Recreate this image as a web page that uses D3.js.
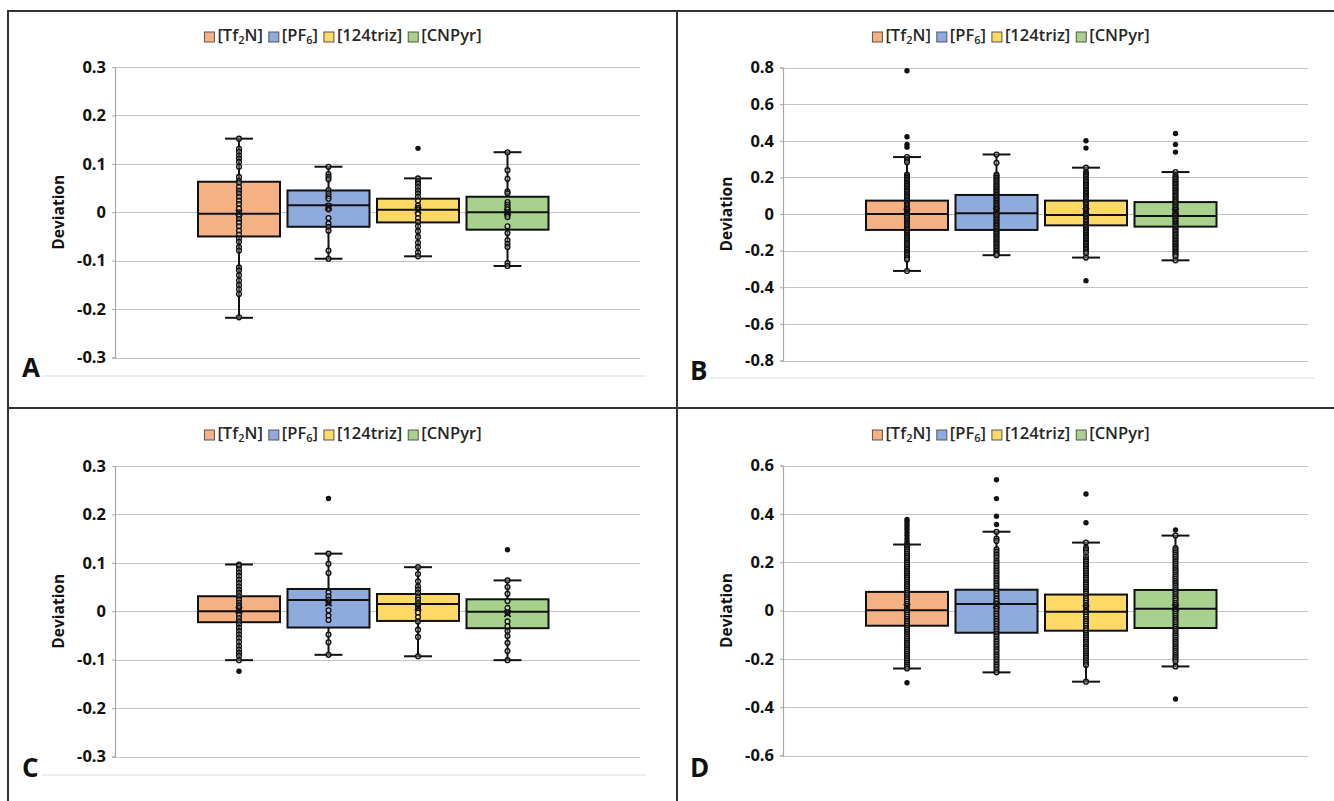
<!DOCTYPE html>
<html>
<head>
<meta charset="utf-8">
<script src="https://cdn.jsdelivr.net/npm/d3@7"></script>
<style>
  html, body { margin: 0; padding: 0; background: #fff; }
  svg { display: block; }
  text { font-family: "Open Sans", "Liberation Sans", sans-serif; }
</style>
</head>
<body>
<script>
// ---------------- DATA ----------------
const seriesNames = ["[Tf2N]", "[PF6]", "[124triz]", "[CNPyr]"];
// legend label parts: [before, subscript, after]
const legendParts = [["[Tf", "2", "N]"], ["[PF", "6", "]"], ["[124triz]", "", ""], ["[CNPyr]", "", ""]];
const seriesColors = ["#F4B183", "#8FAADC", "#FFD966", "#A9D18E"];

const panelLabels = ["A", "B", "C", "D"];
const yDomains = [[-0.3, 0.3], [-0.8, 0.8], [-0.3, 0.3], [-0.6, 0.6]];
const tickStepsY = [0.1, 0.2, 0.1, 0.2];

// box statistics per series: [whiskerLow, q1, median, q3, whiskerHigh]
const boxA = [[-0.218, -0.050, -0.003, 0.063, 0.152], [-0.096, -0.030, 0.0145, 0.045, 0.094], [-0.091, -0.021, 0.005, 0.028, 0.070], [-0.111, -0.036, 0.000, 0.032, 0.124]];
const boxB = [[-0.311, -0.087, 0.000, 0.073, 0.311], [-0.225, -0.087, 0.004, 0.104, 0.325], [-0.238, -0.062, -0.005, 0.073, 0.253], [-0.253, -0.069, -0.011, 0.065, 0.229]];
const boxC = [[-0.101, -0.0226, 0.000, 0.031, 0.0966], [-0.090, -0.0336, 0.023, 0.046, 0.119], [-0.093, -0.020, 0.015, 0.0356, 0.091], [-0.101, -0.035, -0.001, 0.0247, 0.0637]];
const boxD = [[-0.240, -0.063, 0.001, 0.077, 0.273], [-0.256, -0.092, 0.027, 0.086, 0.326], [-0.2945, -0.0836, -0.0055, 0.066, 0.281], [-0.2315, -0.0726, 0.0068, 0.085, 0.310]];

// mean values (X marker)
const meanA = [-0.001, 0.011, 0.004, 0.000];
const meanB = [0.012, 0.016, 0.014, 0.012];
const meanC = [0.002, 0.017, 0.008, -0.005];
const meanD = [0.014, 0.022, 0.009, 0.012];

// inner data points
const pointsA = [
  [0.152, 0.131, 0.125, 0.117, 0.111, 0.104, 0.094, 0.073, 0.065, 0.061, 0.052, 0.045, 0.039, 0.032, 0.024, 0.017, 0.008, 0.000, -0.007, -0.014, -0.021, -0.029, -0.038, -0.046, -0.054, -0.061, -0.072, -0.079, -0.114, -0.120, -0.130, -0.141, -0.150, -0.159, -0.169, -0.217],
  [0.094, 0.079, 0.073, 0.068, 0.046, 0.039, 0.033, 0.028, 0.014, 0.009, 0.006, -0.012, -0.023, -0.030, -0.038, -0.079, -0.096],
  [0.070, 0.064, 0.059, 0.052, 0.045, 0.039, 0.032, 0.024, 0.014, 0.009, 0.006, -0.003, -0.012, -0.020, -0.029, -0.039, -0.051, -0.063, -0.072, -0.083, -0.091],
  [0.124, 0.087, 0.069, 0.043, 0.039, 0.021, 0.016, 0.011, 0.006, 0.000, -0.005, -0.010, -0.029, -0.043, -0.058, -0.065, -0.072, -0.105, -0.111]
];
const outliersA = [[], [], [0.132], []];

const pointsB = [
  [0.311, 0.295, 0.283, 0.215, 0.206, 0.197, 0.189, 0.180, 0.171, 0.163, 0.155, 0.146, 0.138, 0.129, 0.121, 0.112, 0.104, 0.096, 0.087, 0.079, 0.071, 0.062, 0.054, 0.046, 0.037, 0.029, 0.021, 0.012, 0.004, -0.004, -0.012, -0.021, -0.029, -0.037, -0.046, -0.054, -0.062, -0.071, -0.079, -0.087, -0.096, -0.104, -0.112, -0.121, -0.129, -0.138, -0.146, -0.155, -0.163, -0.171, -0.180, -0.189, -0.197, -0.206, -0.214, -0.223, -0.231, -0.240, -0.249, -0.311],
  [0.325, 0.280, 0.215, 0.207, 0.198, 0.190, 0.181, 0.173, 0.164, 0.156, 0.147, 0.139, 0.130, 0.122, 0.113, 0.105, 0.096, 0.088, 0.079, 0.071, 0.062, 0.054, 0.045, 0.037, 0.028, 0.020, 0.011, 0.003, -0.006, -0.014, -0.023, -0.031, -0.040, -0.048, -0.057, -0.065, -0.074, -0.082, -0.091, -0.099, -0.108, -0.116, -0.125, -0.133, -0.142, -0.150, -0.159, -0.167, -0.176, -0.184, -0.193, -0.201, -0.210, -0.218, -0.225],
  [0.253, 0.228, 0.219, 0.211, 0.202, 0.194, 0.185, 0.177, 0.168, 0.160, 0.151, 0.143, 0.134, 0.126, 0.117, 0.109, 0.100, 0.092, 0.083, 0.075, 0.066, 0.058, 0.049, 0.041, 0.032, 0.024, 0.015, 0.007, -0.002, -0.010, -0.019, -0.027, -0.036, -0.044, -0.053, -0.061, -0.070, -0.078, -0.087, -0.095, -0.104, -0.112, -0.121, -0.129, -0.138, -0.146, -0.155, -0.163, -0.172, -0.180, -0.189, -0.197, -0.206, -0.214, -0.238],
  [0.229, 0.210, 0.201, 0.193, 0.184, 0.176, 0.167, 0.159, 0.150, 0.142, 0.133, 0.125, 0.116, 0.108, 0.099, 0.091, 0.082, 0.074, 0.065, 0.057, 0.048, 0.040, 0.031, 0.023, 0.014, 0.006, -0.003, -0.011, -0.020, -0.028, -0.037, -0.045, -0.054, -0.062, -0.071, -0.079, -0.088, -0.096, -0.105, -0.113, -0.122, -0.130, -0.139, -0.147, -0.156, -0.164, -0.173, -0.181, -0.190, -0.198, -0.207, -0.215, -0.224, -0.232, -0.253]
];
const outliersB = [[0.782, 0.422, 0.380, 0.365], [], [0.400, 0.360, -0.364], [0.440, 0.380, 0.338]];

const pointsC = [
  [0.0966, 0.094, 0.087, 0.080, 0.073, 0.065, 0.058, 0.051, 0.044, 0.038, 0.031, 0.024, 0.018, 0.012, 0.007, 0.000, -0.007, -0.014, -0.021, -0.027, -0.034, -0.041, -0.048, -0.055, -0.063, -0.072, -0.079, -0.086, -0.092, -0.101],
  [0.119, 0.098, 0.079, 0.039, 0.031, 0.024, 0.018, 0.002, -0.009, -0.018, -0.048, -0.064, -0.090],
  [0.091, 0.077, 0.062, 0.051, 0.045, 0.038, 0.029, 0.024, 0.017, 0.012, 0.007, -0.003, -0.012, -0.021, -0.038, -0.053, -0.093],
  [0.0637, 0.050, 0.036, 0.021, 0.007, -0.003, -0.021, -0.031, -0.041, -0.051, -0.065, -0.082, -0.101]
];
const outliersC = [[-0.124], [0.233], [], [0.127]];

const pointsD = [
  [0.273, 0.262, 0.253, 0.244, 0.235, 0.226, 0.217, 0.208, 0.199, 0.190, 0.181, 0.172, 0.163, 0.154, 0.145, 0.136, 0.127, 0.118, 0.109, 0.100, 0.091, 0.082, 0.073, 0.064, 0.055, 0.046, 0.037, 0.028, 0.019, 0.010, 0.001, -0.008, -0.017, -0.026, -0.035, -0.044, -0.053, -0.062, -0.071, -0.080, -0.089, -0.098, -0.107, -0.116, -0.125, -0.134, -0.143, -0.152, -0.161, -0.170, -0.179, -0.188, -0.197, -0.206, -0.215, -0.224, -0.232, -0.240],
  [0.326, 0.298, 0.288, 0.253, 0.243, 0.231, 0.220, 0.207, 0.197, 0.186, 0.176, 0.165, 0.155, 0.145, 0.134, 0.124, 0.113, 0.103, 0.092, 0.082, 0.071, 0.061, 0.050, 0.040, 0.029, 0.019, 0.008, -0.002, -0.013, -0.023, -0.034, -0.044, -0.055, -0.065, -0.076, -0.086, -0.097, -0.107, -0.118, -0.128, -0.139, -0.149, -0.160, -0.170, -0.181, -0.191, -0.202, -0.212, -0.223, -0.233, -0.244, -0.256],
  [0.281, 0.259, 0.250, 0.240, 0.222, 0.212, 0.203, 0.193, 0.184, 0.174, 0.165, 0.155, 0.146, 0.136, 0.127, 0.117, 0.108, 0.098, 0.089, 0.079, 0.070, 0.060, 0.051, 0.041, 0.032, 0.022, 0.013, 0.003, -0.006, -0.016, -0.025, -0.035, -0.044, -0.054, -0.063, -0.073, -0.082, -0.092, -0.101, -0.111, -0.120, -0.130, -0.139, -0.149, -0.158, -0.168, -0.177, -0.187, -0.196, -0.206, -0.215, -0.225, -0.2945],
  [0.310, 0.258, 0.249, 0.240, 0.231, 0.222, 0.213, 0.203, 0.194, 0.185, 0.176, 0.167, 0.158, 0.149, 0.140, 0.131, 0.122, 0.113, 0.104, 0.095, 0.086, 0.077, 0.068, 0.059, 0.050, 0.041, 0.032, 0.023, 0.014, 0.005, -0.004, -0.013, -0.022, -0.031, -0.040, -0.049, -0.058, -0.067, -0.076, -0.085, -0.094, -0.103, -0.112, -0.121, -0.130, -0.139, -0.148, -0.157, -0.166, -0.175, -0.184, -0.193, -0.202, -0.211, -0.2315]
];
const outliersD = [[0.377, 0.368, 0.358, 0.348, 0.336, 0.323, 0.311, 0.298, 0.286, -0.299], [0.541, 0.463, 0.390, 0.356], [0.482, 0.363], [0.333, -0.366]];

const boxes = [boxA, boxB, boxC, boxD];
const means = [meanA, meanB, meanC, meanD];
const points = [pointsA, pointsB, pointsC, pointsD];
const outliers = [outliersA, outliersB, outliersC, outliersD];

// ---------------- LAYOUT ----------------
const W = 1334, H = 801;
const layouts = [
  { left: 115, right: 640, top: 67,   bottom: 357.5, legendCx: 343,  legendY: 35,  labelX: 22,  labelY: 377, baseY: 376, baseX0: 42,  panelX: 8 },
  { left: 783, right: 1308, top: 67.5, bottom: 360.5, legendCx: 1011, legendY: 35,  labelX: 690, labelY: 380, baseY: 378, baseX0: 709, panelX: 677 },
  { left: 115, right: 640, top: 466,  bottom: 756.5, legendCx: 343,  legendY: 433, labelX: 22,  labelY: 777, baseY: 775, baseX0: 42,  panelX: 8 },
  { left: 783, right: 1308, top: 465.5, bottom: 755.5, legendCx: 1011, legendY: 433, labelX: 690, labelY: 777, baseY: null, baseX0: 709, panelX: 677 }
];

const svg = d3.select("body").append("svg").attr("width", W).attr("height", H);
svg.append("rect").attr("width", W).attr("height", H).attr("fill", "#fff");

const fmt = v => { const r = +v.toFixed(1); return r === 0 ? "0" : String(r); };

layouts.forEach((L, pi) => {
  const g = svg.append("g");
  const y = d3.scaleLinear().domain(yDomains[pi]).range([L.bottom, L.top]);
  const x = d3.scaleBand().domain(d3.range(4))
    .range([L.left + 83, L.left + 83 + 4 * 82 + 3 * 7.5])
    .paddingInner(7.5 / 89.5).paddingOuter(0);

  const [d0, d1] = yDomains[pi];
  const n = Math.round((d1 - d0) / tickStepsY[pi]);
  const ticks = d3.range(n + 1).map(i => +(d0 + i * tickStepsY[pi]).toFixed(2));

  // light baseline under chart
  if (L.baseY !== null) {
    g.append("line").attr("x1", L.baseX0).attr("x2", L.right + 6)
      .attr("y1", L.baseY).attr("y2", L.baseY)
      .attr("stroke", "#d9d9d9").attr("stroke-width", 1.2);
  }

  // gridlines
  g.append("g").selectAll("line").data(ticks).join("line")
    .attr("x1", L.left).attr("x2", L.right)
    .attr("y1", d => Math.round(y(d)) + 0.5).attr("y2", d => Math.round(y(d)) + 0.5)
    .attr("stroke", "#c4c4c4").attr("stroke-width", 1.2);

  // y axis
  const axis = d3.axisLeft(y).tickValues(ticks).tickFormat(fmt).tickSize(3).tickPadding(6);
  const ag = g.append("g").attr("transform", `translate(${L.left},0)`).call(axis);
  ag.select(".domain").attr("stroke", "#a6a6a6").attr("stroke-width", 1.2);
  ag.selectAll(".tick line").attr("stroke", "#a6a6a6");
  ag.selectAll(".tick text").attr("fill", "#111")
    .style("font-size", "16.5px").style("font-weight", "700")
    .style("font-family", '"Open Sans", sans-serif');

  // axis title
  g.append("text")
    .attr("transform", `translate(${L.left - 55},${(L.top + L.bottom) / 2}) rotate(-90)`)
    .attr("text-anchor", "middle").attr("dominant-baseline", "middle")
    .style("font-size", "15.5px").style("font-weight", "700").attr("fill", "#111")
    .text("Deviation");

  // boxes
  const bw = x.bandwidth();
  const capW = bw * 0.34;
  boxes[pi].forEach((s, si) => {
    const [wl, q1, med, q3, wh] = s;
    const cx = x(si) + bw / 2;
    const bg = g.append("g");
    bg.append("rect").attr("x", x(si)).attr("y", y(q3)).attr("width", bw).attr("height", y(q1) - y(q3))
      .attr("fill", seriesColors[si]).attr("stroke", "#111").attr("stroke-width", 2);
    bg.append("line").attr("x1", x(si)).attr("x2", x(si) + bw).attr("y1", y(med)).attr("y2", y(med))
      .attr("stroke", "#111").attr("stroke-width", 2);
    // whiskers
    bg.append("line").attr("x1", cx).attr("x2", cx).attr("y1", y(q3)).attr("y2", y(wh)).attr("stroke", "#111").attr("stroke-width", 2);
    bg.append("line").attr("x1", cx).attr("x2", cx).attr("y1", y(q1)).attr("y2", y(wl)).attr("stroke", "#111").attr("stroke-width", 2);
    bg.append("line").attr("x1", cx - capW / 2).attr("x2", cx + capW / 2).attr("y1", y(wh)).attr("y2", y(wh)).attr("stroke", "#111").attr("stroke-width", 2);
    bg.append("line").attr("x1", cx - capW / 2).attr("x2", cx + capW / 2).attr("y1", y(wl)).attr("y2", y(wl)).attr("stroke", "#111").attr("stroke-width", 2);
    // inner points
    bg.append("g").selectAll("circle").data(points[pi][si]).join("circle")
      .attr("cx", cx).attr("cy", d => y(d)).attr("r", 2.4)
      .attr("fill", "#fff").attr("fill-opacity", 0.3).attr("stroke", "#111").attr("stroke-width", 1.35);
    // outliers
    bg.append("g").selectAll("circle").data(outliers[pi][si]).join("circle")
      .attr("cx", cx).attr("cy", d => y(d)).attr("r", 2.7)
      .attr("fill", "#111");
    // mean marker
    const my = y(means[pi][si]), ms = 3.2;
    bg.append("path").attr("d", `M${cx - ms},${my - ms}L${cx + ms},${my + ms}M${cx - ms},${my + ms}L${cx + ms},${my - ms}`)
      .attr("stroke", "#111").attr("stroke-width", 1.8);
  });

  // legend
  const lg = g.append("g");
  let xpos = 0;
  legendParts.forEach((parts, si) => {
    const ig = lg.append("g");
    ig.append("rect").attr("x", 0).attr("y", -9).attr("width", 10).attr("height", 10)
      .attr("fill", seriesColors[si]).attr("stroke", "#555").attr("stroke-width", 1);
    const t = ig.append("text").attr("x", 13).attr("y", 0)
      .style("font-size", "16.5px").style("font-weight", "600").attr("fill", "#262626");
    t.append("tspan").text(parts[0]);
    if (parts[1]) {
      t.append("tspan").attr("dy", 3).style("font-size", "11px").text(parts[1]);
      t.append("tspan").attr("dy", -3).text(parts[2]);
    }
    const w = 13 + t.node().getComputedTextLength();
    ig.attr("transform", `translate(${xpos},0)`);
    xpos += w + 6;
  });
  const totalW = xpos - 6;
  lg.attr("transform", `translate(${L.legendCx - totalW / 2},${L.legendY + 6})`);

  // panel label
  g.append("text").attr("x", L.labelX).attr("y", L.labelY)
    .style("font-size", "26px").style("font-weight", "700").attr("fill", "#111")
    .text(panelLabels[pi]);
});

// panel frame lines
const frame = svg.append("g").attr("stroke", "#333").attr("stroke-width", 2);
frame.append("line").attr("x1", 8).attr("x2", W).attr("y1", 11).attr("y2", 11);
frame.append("line").attr("x1", 8).attr("x2", 8).attr("y1", 10).attr("y2", H);
frame.append("line").attr("x1", 8).attr("x2", W).attr("y1", 408).attr("y2", 408);
frame.append("line").attr("x1", 677).attr("x2", 677).attr("y1", 10).attr("y2", H);
</script>
</body>
</html>
